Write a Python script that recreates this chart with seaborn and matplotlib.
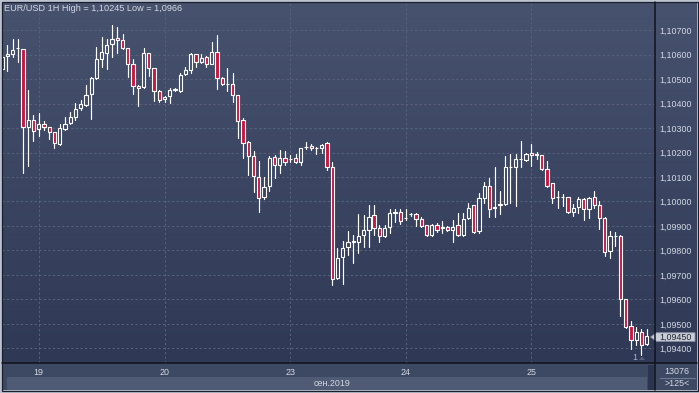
import numpy as np
import pandas as pd
import matplotlib
matplotlib.use('Agg')
import matplotlib.pyplot as plt
import seaborn as sns
from matplotlib.patches import Rectangle, Polygon
from matplotlib.colors import LinearSegmentedColormap
from matplotlib.ticker import FuncFormatter

# ---------------- data (EUR/USD 1H candles) ----------------
opens = [1.10540, 1.10594, 1.10601, 1.10625, 1.10624, 1.10303, 1.10333, 1.10295, 1.10318, 1.10303,
         1.10282, 1.10235, 1.10297, 1.10319, 1.10346, 1.10380, 1.10394, 1.10438, 1.10504, 1.10580,
         1.10608, 1.10643, 1.10669, 1.10658, 1.10625, 1.10560, 1.10470, 1.10466, 1.10605, 1.10544,
         1.10451, 1.10417, 1.10429, 1.10457, 1.10452, 1.10519, 1.10535, 1.10601, 1.10571, 1.10591,
         1.10563, 1.10609, 1.10506, 1.10478, 1.10478, 1.10433, 1.10333, 1.10242, 1.10187, 1.10102,
         1.10017, 1.10064, 1.10183, 1.10149, 1.10176, 1.10174, 1.10176, 1.10163, 1.10224, 1.10228,
         1.10220, 1.10220, 1.10238, 1.10142, 1.09687, 1.09772, 1.09816, 1.09836, 1.09836, 1.09863,
         1.09884, 1.09945, 1.09890, 1.09861, 1.09897, 1.09952, 1.09956, 1.09931, 1.09947, 1.09947,
         1.09927, 1.09904, 1.09863, 1.09904, 1.09893, 1.09897, 1.09884, 1.09904, 1.09863, 1.09931,
         1.09986, 1.09880, 1.10013, 1.10063, 1.09972, 1.09986, 1.09990, 1.10140, 1.10142, 1.10172,
         1.10170, 1.10197, 1.10194, 1.10190, 1.10131, 1.10074, 1.10017, 1.10017, 1.10017, 1.09956,
         1.09976, 1.10009, 1.09968, 1.10017, 1.09986, 1.09932, 1.09796, 1.09861, 1.09859, 1.09601,
         1.09490, 1.09435, 1.09469, 1.09418]
highs = [1.10600, 1.10639, 1.10662, 1.10662, 1.10624, 1.10455, 1.10353, 1.10360, 1.10329, 1.10303,
         1.10282, 1.10315, 1.10344, 1.10364, 1.10401, 1.10414, 1.10476, 1.10510, 1.10632, 1.10673,
         1.10662, 1.10720, 1.10714, 1.10684, 1.10625, 1.10580, 1.10476, 1.10625, 1.10605, 1.10544,
         1.10455, 1.10431, 1.10462, 1.10462, 1.10526, 1.10550, 1.10605, 1.10601, 1.10601, 1.10594,
         1.10651, 1.10680, 1.10510, 1.10544, 1.10523, 1.10433, 1.10340, 1.10248, 1.10206, 1.10166,
         1.10102, 1.10186, 1.10190, 1.10210, 1.10206, 1.10190, 1.10193, 1.10219, 1.10242, 1.10235,
         1.10222, 1.10235, 1.10243, 1.10163, 1.09809, 1.09840, 1.09880, 1.09863, 1.09949, 1.09945,
         1.09986, 1.09986, 1.09904, 1.09904, 1.09968, 1.09968, 1.09968, 1.09968, 1.09952, 1.09952,
         1.09938, 1.09904, 1.09908, 1.09911, 1.09921, 1.09901, 1.09925, 1.09952, 1.09952, 1.09992,
         1.09986, 1.10033, 1.10081, 1.10095, 1.10139, 1.10044, 1.10186, 1.10194, 1.10194, 1.10245,
         1.10199, 1.10235, 1.10203, 1.10190, 1.10167, 1.10077, 1.10044, 1.10031, 1.10017, 1.09990,
         1.10017, 1.10013, 1.10020, 1.10044, 1.10000, 1.09936, 1.09880, 1.09877, 1.09864, 1.09601,
         1.09514, 1.09487, 1.09479, 1.09480]
lows = [1.10535, 1.10534, 1.10591, 1.10571, 1.10118, 1.10146, 1.10248, 1.10269, 1.10292, 1.10255,
        1.10217, 1.10231, 1.10292, 1.10315, 1.10333, 1.10374, 1.10390, 1.10338, 1.10499, 1.10550,
        1.10542, 1.10591, 1.10605, 1.10621, 1.10507, 1.10439, 1.10391, 1.10462, 1.10512, 1.10410,
        1.10408, 1.10408, 1.10404, 1.10452, 1.10448, 1.10516, 1.10523, 1.10550, 1.10567, 1.10549,
        1.10560, 1.10459, 1.10476, 1.10451, 1.10405, 1.10258, 1.10176, 1.10108, 1.10040, 1.09956,
        1.10009, 1.10044, 1.10095, 1.10118, 1.10149, 1.10163, 1.10156, 1.10149, 1.10214, 1.10210,
        1.10193, 1.10197, 1.10129, 1.09660, 1.09683, 1.09662, 1.09782, 1.09751, 1.09791, 1.09816,
        1.09816, 1.09863, 1.09833, 1.09857, 1.09873, 1.09918, 1.09907, 1.09925, 1.09941, 1.09901,
        1.09897, 1.09859, 1.09859, 1.09877, 1.09870, 1.09880, 1.09833, 1.09859, 1.09859, 1.09927,
        1.09873, 1.09870, 1.09995, 1.09938, 1.09936, 1.09949, 1.09986, 1.09993, 1.09982, 1.10142,
        1.10167, 1.10145, 1.10172, 1.10129, 1.10061, 1.09993, 1.09975, 1.09982, 1.09952, 1.09942,
        1.09955, 1.09925, 1.09931, 1.09972, 1.09887, 1.09778, 1.09768, 1.09819, 1.09533, 1.09483,
        1.09397, 1.09415, 1.09374, 1.09415]
closes = [1.10588, 1.10601, 1.10617, 1.10625, 1.10303, 1.10333, 1.10288, 1.10315, 1.10304, 1.10282,
          1.10238, 1.10299, 1.10315, 1.10344, 1.10379, 1.10397, 1.10433, 1.10503, 1.10580, 1.10609,
          1.10639, 1.10662, 1.10658, 1.10625, 1.10560, 1.10470, 1.10462, 1.10605, 1.10544, 1.10451,
          1.10413, 1.10428, 1.10454, 1.10458, 1.10516, 1.10535, 1.10601, 1.10569, 1.10587, 1.10560,
          1.10609, 1.10503, 1.10478, 1.10478, 1.10433, 1.10329, 1.10238, 1.10186, 1.10104, 1.10013,
          1.10061, 1.10179, 1.10149, 1.10176, 1.10163, 1.10174, 1.10160, 1.10217, 1.10224, 1.10217,
          1.10219, 1.10232, 1.10140, 1.09683, 1.09768, 1.09812, 1.09836, 1.09840, 1.09859, 1.09884,
          1.09935, 1.09890, 1.09861, 1.09890, 1.09952, 1.09956, 1.09922, 1.09931, 1.09947, 1.09929,
          1.09901, 1.09863, 1.09904, 1.09884, 1.09897, 1.09884, 1.09897, 1.09863, 1.09927, 1.09975,
          1.09877, 1.10013, 1.10063, 1.09968, 1.09977, 1.09989, 1.10140, 1.10142, 1.10172, 1.10175,
          1.10192, 1.10190, 1.10190, 1.10131, 1.10065, 1.10013, 1.10017, 1.10017, 1.09956, 1.09972,
          1.10009, 1.09968, 1.10013, 1.09986, 1.09932, 1.09793, 1.09861, 1.09861, 1.09601, 1.09487,
          1.09435, 1.09469, 1.09415, 1.09450]
day_tick_candles = [7, 31, 55, 77, 101]
day_labels = ['19', '20', '23', '24', '25']
price_ticks = [1.09400, 1.09500, 1.09600, 1.09700, 1.09800, 1.09900, 1.10000,
               1.10100, 1.10200, 1.10300, 1.10400, 1.10500, 1.10600, 1.10700]
title_text = 'EUR/USD 1H High = 1,10245 Low = 1,0966'
month_label = 'сен.2019'
last_price = 1.09450
volume_text = '13076'
scale_text = '>125<'
marker_text = '1'

# ---------------- style ----------------
sns.set_theme(style='dark')
plt.rcParams['font.family'] = ['Liberation Sans', 'DejaVu Sans']

W, H = 699, 393
PX0, PX1, PY0, PY1 = 2, 655, 2, 363   # plot area in pixels
TXT = '#d3d8e2'
FS = 6.4

fig = plt.figure(figsize=(W / 100, H / 100), dpi=100, facecolor='#bcc3d0')

# background (pixel coordinates)
bg = fig.add_axes([0, 0, 1, 1], zorder=0)
bg.set_xlim(0, W); bg.set_ylim(H, 0); bg.axis('off')
cmap = LinearSegmentedColormap.from_list('g', ['#47526e', '#2f3955'])
grad = np.linspace(0, 1, 256)[:, None]
bg.imshow(grad, cmap=cmap, extent=(2, 697, PY1, 2), aspect='auto', interpolation='bilinear')
bg.set_xlim(0, W); bg.set_ylim(H, 0)
bg.add_patch(Rectangle((2, PY1), 695, 390 - PY1, color='#3d4862', lw=0))
bg.add_patch(Rectangle((7, 377), 640, 12.5, color='#4f5a74', lw=0))
bg.add_patch(Rectangle((647.5, 365), 6, 25, color='#2c3550', lw=0))

# main axes
ax = fig.add_axes([PX0 / W, (H - PY1) / H, (PX1 - PX0) / W, (PY1 - PY0) / H], zorder=2)
ax.patch.set_alpha(0)

n = len(opens)
idx = np.arange(n)
o = np.array(opens); c = np.array(closes); hi = np.array(highs); lo = np.array(lows)
top = np.maximum(o, c); bot = np.minimum(o, c)

rows = []
for i in idx:
    rows.append((2 * i, i, hi[i])); rows.append((2 * i, i, top[i]))
    rows.append((2 * i + 1, i, bot[i])); rows.append((2 * i + 1, i, lo[i]))
wick_df = pd.DataFrame(rows, columns=['seg', 'x', 'price'])
sns.lineplot(data=wick_df, x='x', y='price', units='seg', estimator=None, sort=False,
             color='white', linewidth=0.85, ax=ax, legend=False)

down = c < o
ax.bar(idx[down], (top - bot)[down], bottom=bot[down], width=0.62,
       facecolor='#c8173f', edgecolor='white', linewidth=0.8, zorder=3)
ax.bar(idx[~down], (top - bot)[~down], bottom=bot[~down], width=0.62,
       facecolor='none', edgecolor='white', linewidth=0.8, zorder=3)

ax.set_xlim(-0.01, 124.6)
ax.set_ylim(1.093408, 1.108143)
ax.set_xlabel(''); ax.set_ylabel('')
for s in ax.spines.values():
    s.set_visible(False)

ax.set_yticks(price_ticks)
ax.yaxis.tick_right()
ax.yaxis.set_major_formatter(FuncFormatter(lambda v, p: f'{v:.5f}'.replace('.', ',')))
ax.tick_params(axis='y', length=0, pad=3, labelsize=FS, labelcolor=TXT)
ax.set_xticks(day_tick_candles)
ax.set_xticklabels(day_labels)
ax.tick_params(axis='x', length=0, pad=3.4, labelsize=FS, labelcolor=TXT)
ax.grid(True, color='#56617c', linestyle=(0, (2.2, 2.2)), linewidth=0.75)
ax.set_axisbelow(True)

# overlay in pixel coordinates
ov = fig.add_axes([0, 0, 1, 1], zorder=4)
ov.set_xlim(0, W); ov.set_ylim(H, 0); ov.axis('off'); ov.patch.set_alpha(0)
ov.plot([2, 697], [PY1, PY1], color='#10131c', lw=1.1)
ov.plot([PX1, PX1], [2, 390], color='#10131c', lw=1.1)
ov.add_patch(Rectangle((1.5, 1.5), 696, 389, fill=False, ec='#1a1f2b', lw=0.9))
ov.text(4, 8.5, title_text, fontsize=6.6, color=TXT, ha='left', va='center')
ov.text(332, 383, month_label, fontsize=FS, color=TXT, ha='center', va='center')
ov.text(677, 371.5, volume_text, fontsize=FS, color=TXT, ha='center', va='center')
ov.plot([660, 695], [377.5, 377.5], color='#6f7a94', lw=0.8)
ov.text(677, 383.5, scale_text, fontsize=FS, color=TXT, ha='center', va='center')
ov.text(635, 358, marker_text, fontsize=FS, color='#9fb2d6', ha='center', va='center')
ov.add_patch(Polygon([(639, 360), (642, 356.5), (645, 360)], closed=True, color='#56627e', lw=0))

# last price tag
ytag = 30 + (1.107 - last_price) * 24500 + 0.8
ov.add_patch(Polygon([(650.5, ytag), (656.5, ytag - 4.3), (695, ytag - 4.3), (695, ytag + 4.3),
                      (656.5, ytag + 4.3)], closed=True, fc='#c9ced8', ec='#8a92a4', lw=0.6))
ov.text(676, ytag, f'{last_price:.5f}'.replace('.', ','), fontsize=FS, color='#20242c',
        ha='center', va='center')

fig.savefig('out.png', dpi=100, facecolor=fig.get_facecolor())
